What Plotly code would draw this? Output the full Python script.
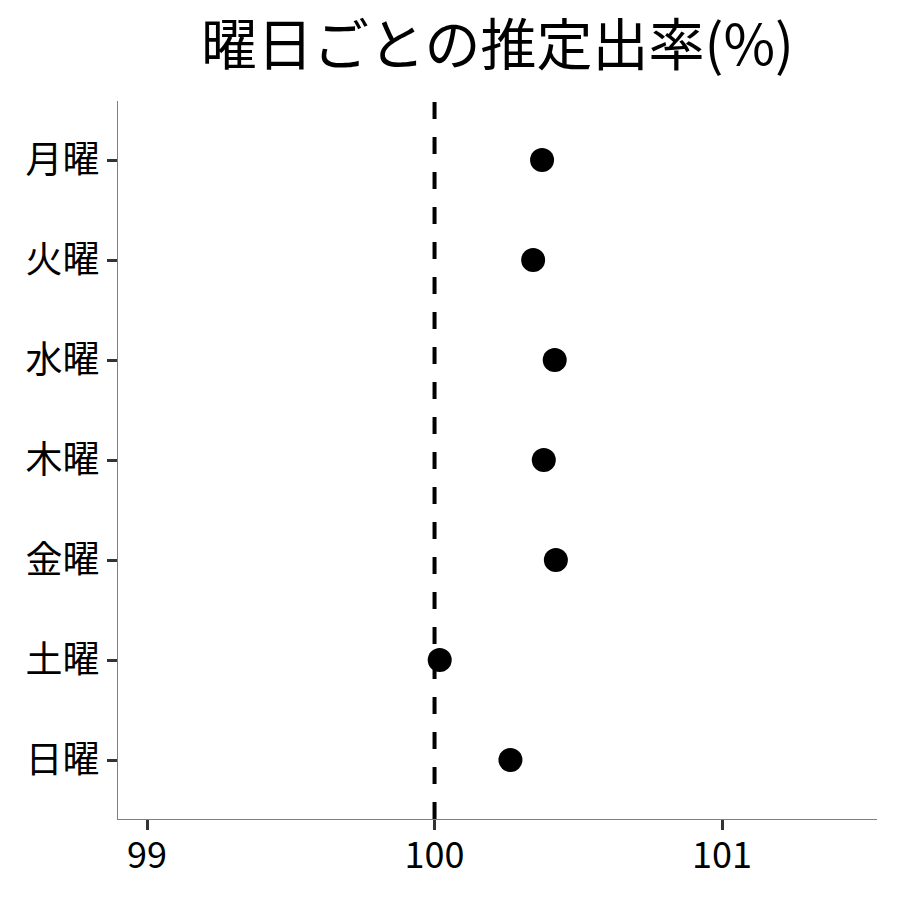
import plotly.graph_objects as go

# 曜日ごとの推定出率(%)
youbi = ["月曜", "火曜", "水曜", "木曜", "金曜", "土曜", "日曜"]
shutsuritsu = [100.374, 100.343, 100.418, 100.380, 100.422, 100.018, 100.264]
x_ticks = [99, 100, 101]
kijun = 100

font_jp = "Noto Sans CJK JP"

fig = go.Figure()

fig.add_trace(go.Scatter(
    x=shutsuritsu, y=youbi,
    mode="markers",
    marker=dict(color="black", size=24),
    showlegend=False,
    cliponaxis=False,
))

# 基準線 (100%)
fig.add_vline(
    x=kijun, layer="below",
    line=dict(color="black", width=4, dash="17px,18px"),
)

fig.update_layout(
    width=900, height=900,
    paper_bgcolor="white", plot_bgcolor="white",
    margin=dict(l=110, r=31, t=93, b=89),
    font=dict(family=font_jp, color="black"),
    title=dict(
        text="曜日ごとの推定出率(%)",
        font=dict(family=font_jp, size=56, color="black"),
        x=0.5, xref="paper", xanchor="center",
        y=0.959, yref="container", yanchor="middle",
    ),
    xaxis=dict(
        range=[98.899, 101.539],
        tickvals=x_ticks, ticktext=[str(v) for v in x_ticks],
        showgrid=False, zeroline=False,
        showline=True, linecolor="#7f7f7f", linewidth=1.3,
        ticks="outside", ticklen=10, tickwidth=3, tickcolor="#333333",
        tickfont=dict(family=font_jp, size=36, color="black"),
        ticklabelstandoff=-5,
    ),
    yaxis=dict(
        type="category",
        categoryorder="array", categoryarray=youbi[::-1],
        range=[-0.59, 6.59],
        showgrid=False, zeroline=False,
        showline=True, linecolor="#7f7f7f", linewidth=1.3,
        ticks="outside", ticklen=10, tickwidth=3, tickcolor="#333333",
        tickfont=dict(family=font_jp, size=37, color="black"),
    ),
)

fig.write_html("out.html")
